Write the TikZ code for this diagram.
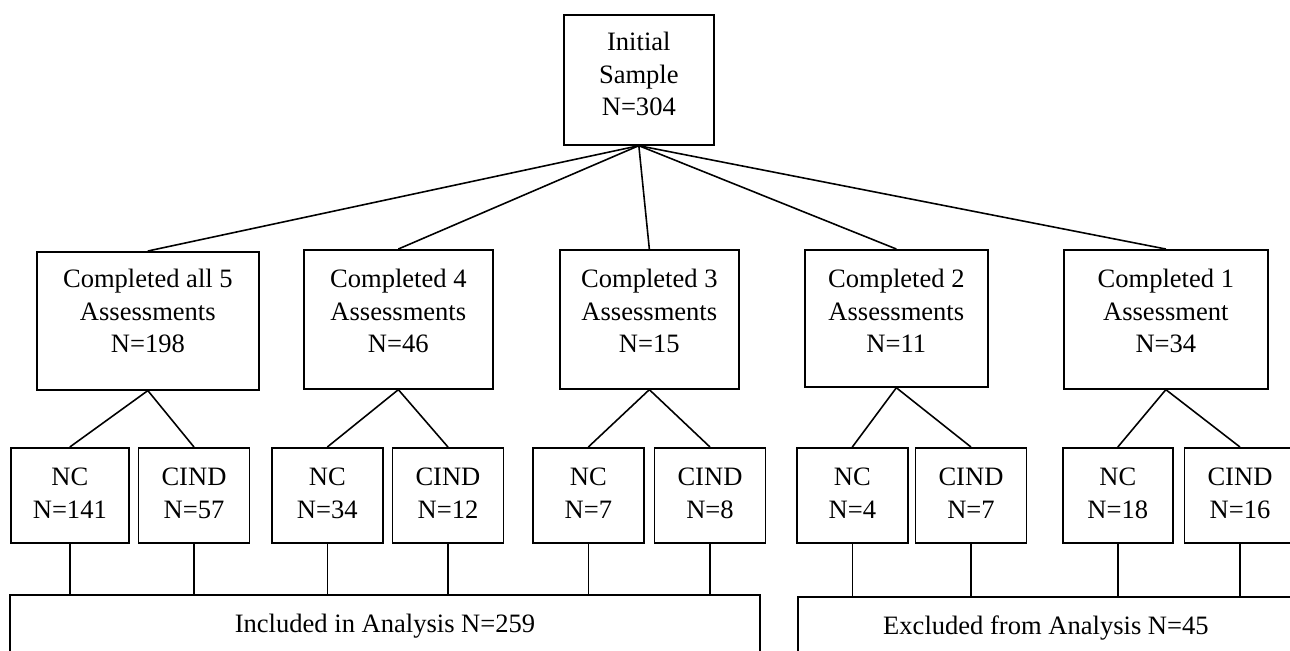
\documentclass[tikz,border=0pt]{standalone}
\usepackage{fontspec}
\setmainfont{Liberation Serif}
\usetikzlibrary{positioning}

\newcommand{\hi}[1]{\rule{0pt}{#1}}
\newcommand{\lo}[1]{\rule[-#1]{0pt}{#1}}

\begin{document}
\begin{tikzpicture}[x=0.01cm, y=-0.01cm, line width=0.45pt,
  box/.style={draw, anchor=north west, inner sep=0pt, align=center,
    font=\fontsize{7.55pt}{9.25pt}\selectfont},
  group/.style={box},
  split/.style={box, minimum width=1.11cm}]

\useasboundingbox (0,0) rectangle (1290,650);
\clip (0,0) rectangle (1290,650);

\node[box, minimum width=1.5cm] (init) at (563,14) {\hi{10.24pt}Initial\\Sample\\N=304\lo{8.25pt}};

\node[group, minimum width=2.22cm] (c5) at (36,251) {\hi{10.24pt}Completed all 5\\Assessments\\N=198\lo{10.5pt}};
\node[group, minimum width=1.89cm] (c4) at (303,249) {\hi{10.8pt}Completed 4\\Assessments\\N=46\lo{10.24pt}};
\node[group, minimum width=1.79cm] (c3) at (559,249) {\hi{10.8pt}Completed 3\\Assessments\\N=15\lo{10.24pt}};
\node[group, minimum width=1.83cm] (c2) at (804,249) {\hi{10.8pt}Completed 2\\Assessments\\N=11\lo{9.7pt}};
\node[group, minimum width=2.04cm] (c1) at (1063,249) {\hi{10.8pt}Completed 1\\Assessment\\N=34\lo{10.24pt}};

\node[split, minimum width=1.18cm] (nc5) at (10,447) {\hi{10.8pt}NC\\N=141\lo{7.1pt}};
\node[split] (cind5) [right=0.08cm of nc5] {\hi{10.8pt}CIND\\N=57\lo{7.1pt}};
\node[split] (nc4) at (271,447) {\hi{10.8pt}NC\\N=34\lo{7.1pt}};
\node[split] (cind4) [right=0.08cm of nc4] {\hi{10.8pt}CIND\\N=12\lo{7.1pt}};
\node[split] (nc3) at (532,447) {\hi{10.8pt}NC\\N=7\lo{7.1pt}};
\node[split] (cind3) [right=0.09cm of nc3] {\hi{10.8pt}CIND\\N=8\lo{7.1pt}};
\node[split] (nc2) at (796,447) {\hi{10.8pt}NC\\N=4\lo{7.1pt}};
\node[split] (cind2) [right=0.06cm of nc2] {\hi{10.8pt}CIND\\N=7\lo{7.1pt}};
\node[split, minimum width=1.10cm] (nc1) at (1062,447) {\hi{10.8pt}NC\\N=18\lo{7.1pt}};
\node[split] (cind1) [right=0.10cm of nc1] {\hi{10.8pt}CIND\\N=16\lo{7.1pt}};

\node[box, minimum width=7.5cm] (incl) at (9,594) {\hi{10.8pt}Included in Analysis N=259\lo{19pt}};
\node[box, minimum width=4.96cm] (excl) at (797,596) {\hi{10.8pt}Excluded from Analysis N=45\lo{19pt}};

\foreach \k in {5,...,1}
  \draw (init.south) -- (c\k.north);

\foreach \k in {5,...,1} {
  \draw (c\k.south) -- (nc\k.north);
  \draw (c\k.south) -- (cind\k.north);
}

\foreach \k/\t in {5/incl,4/incl,3/incl,2/excl,1/excl} {
  \draw (nc\k.south) -- (nc\k.south |- \t.north);
  \draw (cind\k.south) -- (cind\k.south |- \t.north);
}
\end{tikzpicture}
\end{document}
